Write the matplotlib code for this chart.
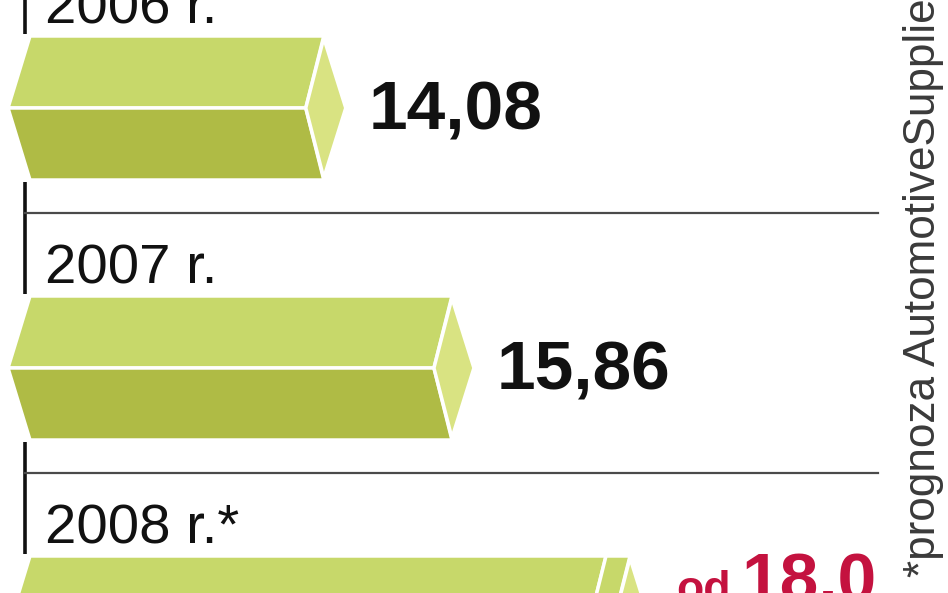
import matplotlib
matplotlib.use("Agg")
import matplotlib.pyplot as plt
from matplotlib.patches import Polygon

# data
years = ["2006 r.", "2007 r.", "2008 r.*"]
values = [14.08, 15.86, 18.0]
value_labels = ["14,08", "15,86", "18,0"]
prefix = ["", "", "od"]          # 2008 is a forecast: "od 18,0"
footnote = "*prognoza AutomotiveSuppliers.pl"

# colours
TOP = "#c7d86a"
BOTTOM = "#afbb45"
CAP = "#d9e382"
RED = "#c4123f"

W, H = 948, 593
fig = plt.figure(figsize=(W / 100, H / 100), dpi=100)
ax = fig.add_axes([0, 0, 1, 1])

# value axis is truncated: pixel 0 ~ 9.83, 72 px per unit
x_lo, x_hi = 9.833, 23.0
ax.set_xlim(x_lo, x_hi)
ax.set_ylim(H, 0)
ax.axis("off")
px = (x_hi - x_lo) / W

base = x_lo + 8 * px
row0, row_step, half = 108, 260, 72
centers = [row0 + i * row_step for i in range(len(years))]


def prism(end, c, ext=0.0):
    # hexagonal prism seen from the side: top face, bottom face, end cap
    faces = []
    faces.append(([(base, c), (base + 22 * px, c - half), (end + 18 * px, c - half), (end, c)], TOP))
    faces.append(([(base, c), (end, c), (end + 18 * px, c + half), (base + 22 * px, c + half)], BOTTOM))
    if ext:
        e2 = end + ext
        faces.append(([(end, c), (end + 18 * px, c - half), (e2 + 18 * px, c - half), (e2, c)], TOP))
        faces.append(([(end, c), (e2, c), (e2 + 18 * px, c + half), (end + 18 * px, c + half)], BOTTOM))
        end = e2
    faces.append(([(end, c), (end + 18 * px, c - half + 2), (end + 40 * px, c), (end + 18 * px, c + half - 2)], CAP))
    for pts, col in faces:
        ax.add_patch(Polygon(pts, closed=True, facecolor=col, edgecolor="white", lw=2.5, zorder=3))
    return end + 40 * px


# left axis line, broken where the bars sit
axis_x = x_lo + 25 * px
gaps = [(-5, centers[0] - half - 2)]
for a, b in zip(centers[:-1], centers[1:]):
    gaps.append((a + half + 2, b - half - 2))
for y0, y1 in gaps:
    ax.plot([axis_x, axis_x], [y0, y1], color="#111111", lw=2.6, zorder=2, solid_capstyle="butt")

# separators between the rows
for c in centers[1:]:
    ax.plot([axis_x, x_lo + 878 * px], [c - 155, c - 155], color="#4a4a4a", lw=1.6, zorder=2)

for i, (yr, v, lab, pre, c) in enumerate(zip(years, values, value_labels, prefix, centers)):
    ax.text(x_lo + 45 * px, c - 85, yr, fontsize=40.5, family="Liberation Sans",
            color="#111111", va="baseline", ha="left")
    if pre:
        tip = prism(v, c, ext=24 * px)
        ax.text(tip + 24 * px, c - 26, pre, fontsize=32, family="Liberation Sans",
                weight="bold", color=RED, va="baseline", ha="left")
        ax.text(tip + 90 * px, c - 26, lab, fontsize=50, family="Liberation Sans",
                weight="bold", color=RED, va="baseline", ha="left")
    else:
        tip = prism(v, c)
        ax.text(tip + 23 * px, c + 22, lab, fontsize=50, family="Liberation Sans",
                weight="bold", color="#111111", va="baseline", ha="left")

ax.text(x_lo + 944 * px, 577, footnote, rotation=90, fontsize=31.8, family="Liberation Sans",
        color="#3a3a3a", ha="right", va="bottom")

fig.savefig("out.png", dpi=100)
